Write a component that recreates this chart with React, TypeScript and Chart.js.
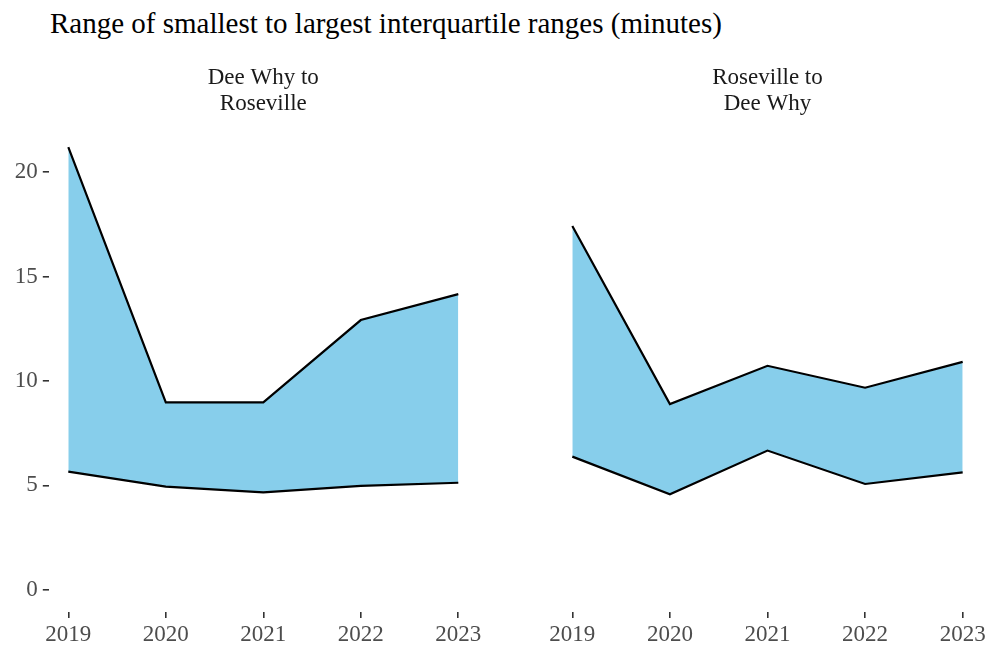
import React, { useEffect, useRef } from "react";
import { Chart, registerables } from "chart.js";

Chart.register(...registerables);

const years = [2019, 2020, 2021, 2022, 2023];
const deeWhyLower = [5.66, 4.94, 4.67, 4.98, 5.13];
const deeWhyUpper = [21.2, 8.98, 8.98, 12.92, 14.16];
const rosevilleLower = [6.38, 4.58, 6.67, 5.07, 5.63];
const rosevilleUpper = [17.42, 8.9, 10.73, 9.68, 10.92];
const yTicks = [0, 5, 10, 15, 20];
const panelTitles = [
  ["Dee Why to", "Roseville"],
  ["Roseville to", "Dee Why"],
];
const chartTitle = "Range of smallest to largest interquartile ranges (minutes)";

const SERIF = '"Liberation Serif", "Times New Roman", serif';
const FILL = "#87CEEB";

type PanelProps = {
  lower: number[];
  upper: number[];
  strip: string[];
  showY: boolean;
  left: number;
  width: number;
  padLeft: number;
  padRight: number;
};

function Panel({ lower, upper, strip, showY, left, width, padLeft, padRight }: PanelProps) {
  const ref = useRef<HTMLCanvasElement | null>(null);
  useEffect(() => {
    if (!ref.current) return;
    const stripPlugin = {
      id: "strip",
      afterDraw(chart: any) {
        const { ctx, chartArea } = chart;
        const cx = (chartArea.left + chartArea.right) / 2;
        ctx.save();
        ctx.font = `23px ${SERIF}`;
        ctx.fillStyle = "#1A1A1A";
        ctx.textAlign = "center";
        ctx.textBaseline = "middle";
        strip.forEach((line, i) => ctx.fillText(line, cx, 78 + i * 26));
        ctx.restore();
      },
    };
    const chart = new Chart(ref.current, {
      type: "line",
      data: {
        datasets: [
          {
            data: years.map((x, i) => ({ x, y: lower[i] })),
            borderColor: "#000",
            borderWidth: 2.2,
            pointRadius: 0,
            fill: false,
            tension: 0,
          },
          {
            data: years.map((x, i) => ({ x, y: upper[i] })),
            borderColor: "#000",
            borderWidth: 2.2,
            pointRadius: 0,
            fill: "-1",
            backgroundColor: FILL,
            tension: 0,
          },
        ],
      },
      options: {
        animation: false,
        responsive: false,
        maintainAspectRatio: false,
        layout: {
          autoPadding: false,
          padding: { top: 125, bottom: 0, left: padLeft, right: padRight },
        } as any,
        plugins: {
          legend: { display: false },
          tooltip: { enabled: false },
          title: { display: false },
        },
        scales: {
          x: {
            type: "linear",
            min: 2018.8,
            max: 2023.2,
            afterBuildTicks: (scale: any) => {
              scale.ticks = years.map((v) => ({ value: v }));
            },
            afterFit: (scale: any) => {
              scale.height = 41;
            },
            ticks: {
              callback: (v: any) => String(v),
              font: { family: SERIF, size: 23 },
              color: "#4D4D4D",
              padding: 3,
              maxRotation: 0,
              autoSkip: false,
            },
            grid: {
              drawOnChartArea: false,
              drawTicks: true,
              tickLength: 6,
              color: "#333333",
              lineWidth: 1.6,
            },
            border: { display: false },
          },
          y: {
            type: "linear",
            display: showY,
            min: -1.06,
            max: 22.26,
            afterBuildTicks: (scale: any) => {
              scale.ticks = yTicks.map((v) => ({ value: v }));
            },
            afterFit: (scale: any) => {
              scale.width = showY ? 48.8 : 0;
            },
            ticks: {
              callback: (v: any) => String(v),
              font: { family: SERIF, size: 23 },
              color: "#4D4D4D",
              padding: 5,
            },
            grid: {
              drawOnChartArea: false,
              drawTicks: true,
              tickLength: 6,
              color: "#333333",
              lineWidth: 1.6,
            },
            border: { display: false },
          },
        },
      },
      plugins: [stripPlugin],
    });
    return () => chart.destroy();
  }, []);
  return (
    <canvas
      ref={ref}
      width={width}
      height={653}
      style={{ position: "absolute", left, top: 0, width, height: 653 }}
    />
  );
}

export default function App() {
  return (
    <div
      style={{
        position: "absolute",
        left: 0,
        top: 0,
        width: 991,
        height: 653,
        background: "#fff",
        overflow: "hidden",
      }}
    >
      <div
        style={{
          position: "absolute",
          left: 50,
          top: 9,
          fontFamily: SERIF,
          fontSize: 29,
          lineHeight: 1,
          color: "#000",
          whiteSpace: "nowrap",
        }}
      >
        {chartTitle}
      </div>
      <Panel
        lower={deeWhyLower}
        upper={deeWhyUpper}
        strip={panelTitles[0]}
        showY={true}
        left={0}
        width={510}
        padLeft={0}
        padRight={32.2}
      />
      <Panel
        lower={rosevilleLower}
        upper={rosevilleUpper}
        strip={panelTitles[1]}
        showY={false}
        left={510}
        width={481}
        padLeft={42.8}
        padRight={8.8}
      />
    </div>
  );
}
